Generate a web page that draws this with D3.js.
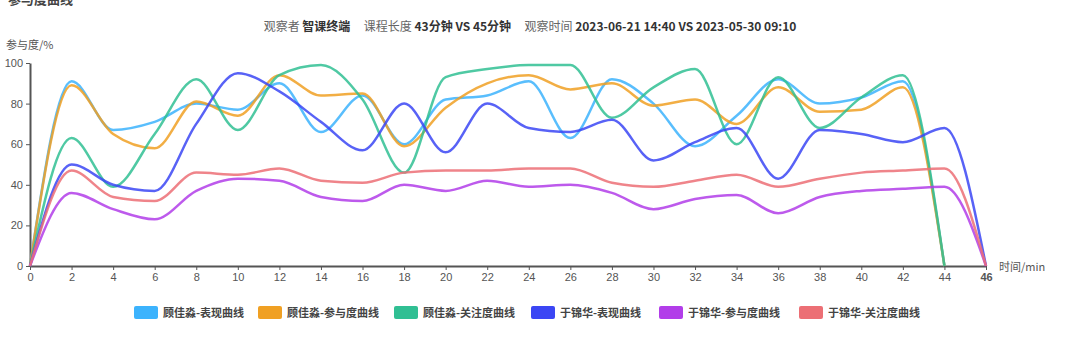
<!DOCTYPE html>
<html>
<head>
<meta charset="utf-8">
<script src="https://cdn.jsdelivr.net/npm/d3@7"></script>
<style>
  body { margin: 0; background: #fff; font-family: "Noto Sans CJK SC", "Noto Sans", sans-serif; }
  svg { display: block; }
</style>
</head>
<body>
<svg id="chart" width="1080" height="360"></svg>
<script>
// minutes on x axis
const minutes = [0, 2, 4, 6, 8, 10, 12, 14, 16, 18, 20, 22, 24, 26, 28, 30, 32, 34, 36, 38, 40, 42, 44, 46];
const xTicks = d3.range(0, 47, 2);
const yTicks = [0, 20, 40, 60, 80, 100];

const seriesNames = [
  "顾佳淼-表现曲线", "顾佳淼-参与度曲线", "顾佳淼-关注度曲线",
  "于锦华-表现曲线", "于锦华-参与度曲线", "于锦华-关注度曲线"
];
const seriesColors = ["#3cb3fd", "#f0a023", "#30bf93", "#3b46f4", "#b23de9", "#ec6f75"];

// values per minute point (null = no data)
const guPerform = [0, 91, 67, 71, 80, 77, 90, 66, 84, 60, 82, 84, 91, 63, 92, 80, 59, 74, 92, 80, 83, 91, 0, null];
const guEngage  = [0, 89, 65, 58, 81, 74, 94, 84, 85, 59, 78, 90, 94, 87, 90, 79, 82, 70, 88, 76, 77, 88, 0, null];
const guFocus   = [0, 63, 39, 65, 92, 67, 94, 99, 82, 46, 93, 97, 99, 99, 73, 88, 97, 60, 93, 68, 83, 94, 0, null];
const yuPerform = [0, 50, 40, 37, 70, 95, 86, 71, 57, 80, 56, 80, 68, 66, 72, 52, 61, 68, 43, 67, 65, 61, 68, 0];
const yuEngage  = [0, 36, 28, 23, 37, 43, 42, 34, 32, 40, 37, 42, 39, 40, 36, 28, 33, 35, 26, 34, 37, 38, 39, 0];
const yuFocus   = [0, 47, 34, 32, 46, 45, 48, 42, 41, 46, 47, 47, 48, 48, 41, 39, 42, 45, 39, 43, 46, 47, 48, 0];

const allSeries = [guPerform, guEngage, guFocus, yuPerform, yuEngage, yuFocus];

const svg = d3.select("#chart");
const margin = { left: 30, right: 94, top: 63, bottom: 94 };
const width = 1080, height = 360;

const x = d3.scaleLinear().domain([0, 46]).range([margin.left, width - margin.right]);
const y = d3.scaleLinear().domain([0, 100]).range([height - margin.bottom, margin.top]);

// title (sits at the very top edge, as in the original)
svg.append("text")
  .attr("x", 8).attr("y", 4)
  .attr("font-size", 13).attr("font-weight", "bold").attr("fill", "#444")
  .text("参与度曲线");

// subtitle
const sub = svg.append("text")
  .attr("x", 530).attr("y", 31)
  .attr("text-anchor", "middle")
  .attr("font-size", 12).attr("fill", "#555");
const subParts = [
  ["观察者 ", false], ["智课终端", true], ["\u00a0\u00a0\u00a0\u00a0\u00a0课程长度 ", false], ["43分钟 VS 45分钟", true],
  ["\u00a0\u00a0\u00a0\u00a0\u00a0观察时间 ", false], ["2023-06-21 14:40 VS 2023-05-30 09:10", true]
];
subParts.forEach(([t, bold]) => {
  sub.append("tspan")
    .attr("font-weight", bold ? "bold" : "normal")
    .attr("fill", bold ? "#333" : "#666")
    .text(t);
});

// axis names
svg.append("text")
  .attr("x", 6).attr("y", 49)
  .attr("font-size", 11).attr("fill", "#555")
  .text("参与度/%");
svg.append("text")
  .attr("x", x(46) + 13).attr("y", y(0) + 5)
  .attr("font-size", 11).attr("fill", "#555")
  .text("时间/min");

// x axis
const xAxis = svg.append("g")
  .attr("transform", `translate(0,${y(0)})`)
  .call(d3.axisBottom(x).tickValues(xTicks).tickSize(4).tickSizeOuter(0).tickPadding(3));
xAxis.select(".domain").attr("stroke", "#555").attr("stroke-width", 2);
xAxis.selectAll(".tick line").attr("stroke", "#555");
xAxis.selectAll("text").attr("fill", "#555").attr("font-size", 11)
  .attr("font-weight", (d) => (d === 46 ? "bold" : "normal"));

// y axis
const yAxis = svg.append("g")
  .attr("transform", `translate(${x(0)},0)`)
  .call(d3.axisLeft(y).tickValues(yTicks).tickSize(4).tickSizeOuter(0).tickPadding(3));
yAxis.select(".domain").attr("stroke", "#555").attr("stroke-width", 2);
yAxis.selectAll(".tick line").attr("stroke", "#555");
yAxis.selectAll("text").attr("fill", "#555").attr("font-size", 11);

// lines
const line = d3.line()
  .defined((d) => d[1] !== null)
  .x((d) => x(d[0]))
  .y((d) => y(d[1]))
  .curve(d3.curveMonotoneX);

svg.append("g")
  .selectAll("path")
  .data(allSeries)
  .join("path")
  .attr("fill", "none")
  .attr("stroke", (d, i) => seriesColors[i])
  .attr("stroke-width", 2.5)
  .attr("stroke-opacity", 0.85)
  .attr("d", (vals) => line(vals.map((v, i) => [minutes[i], v])));

// legend
const legendX = [134, 258, 394, 531, 659, 799];
const legend = svg.append("g")
  .selectAll("g")
  .data(seriesNames)
  .join("g")
  .attr("transform", (d, i) => `translate(${legendX[i]},306)`);
legend.append("rect")
  .attr("width", 24).attr("height", 13).attr("rx", 2)
  .attr("fill", (d, i) => seriesColors[i]);
legend.append("text")
  .attr("x", 29).attr("y", 11)
  .attr("font-size", 11).attr("font-weight", "bold").attr("fill", "#444")
  .text((d) => d);
</script>
</body>
</html>
